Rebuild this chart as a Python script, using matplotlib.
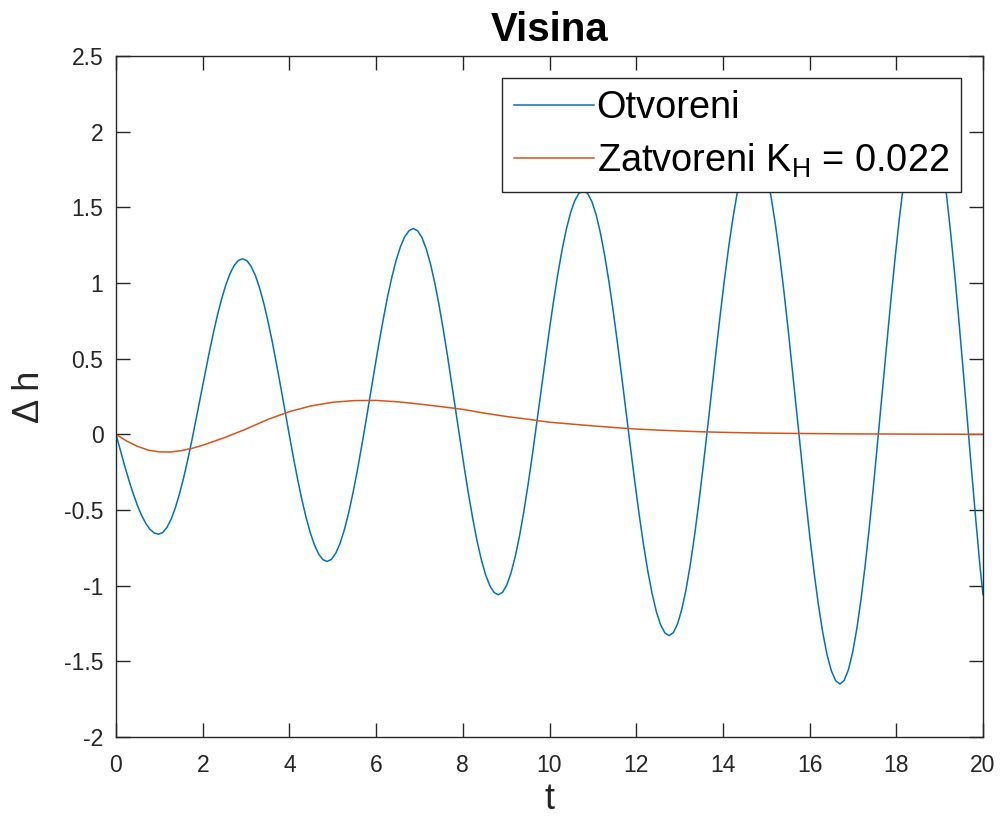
import numpy as np
import matplotlib
matplotlib.use("Agg")
import matplotlib.pyplot as plt

plt.rcParams['font.family'] = ['Liberation Sans', 'DejaVu Sans']
plt.rcParams['mathtext.fontset'] = 'custom'
plt.rcParams['mathtext.rm'] = 'Liberation Sans'
plt.rcParams['mathtext.it'] = 'Liberation Sans:italic'

# ---- data ----
t_open = [0.0, 0.098, 0.196, 0.294, 0.392, 0.49, 0.588, 0.686, 0.784, 0.882, 0.98,
          1.077, 1.174, 1.271, 1.368, 1.465, 1.562, 1.659, 1.756, 1.853, 1.95,
          2.047, 2.144, 2.241, 2.338, 2.435, 2.532, 2.629, 2.726, 2.823, 2.92,
          3.018, 3.115, 3.213, 3.31, 3.408, 3.505, 3.603, 3.70, 3.798, 3.895,
          3.993, 4.09, 4.188, 4.285, 4.383, 4.48, 4.578, 4.675, 4.773, 4.87,
          4.97, 5.069, 5.169, 5.268, 5.368, 5.467, 5.567, 5.666, 5.766, 5.865,
          5.965, 6.064, 6.164, 6.263, 6.363, 6.462, 6.562, 6.661, 6.761, 6.86,
          6.958, 7.056, 7.154, 7.252, 7.35, 7.448, 7.546, 7.644, 7.742, 7.84,
          7.938, 8.036, 8.134, 8.232, 8.33, 8.428, 8.526, 8.624, 8.722, 8.82,
          8.918, 9.016, 9.114, 9.212, 9.31, 9.408, 9.506, 9.604, 9.702, 9.80,
          9.898, 9.996, 10.094, 10.192, 10.29, 10.388, 10.486, 10.584, 10.682, 10.78,
          10.879, 10.978, 11.077, 11.176, 11.275, 11.374, 11.473, 11.572, 11.671, 11.77,
          11.869, 11.968, 12.067, 12.166, 12.265, 12.364, 12.463, 12.562, 12.661, 12.76,
          12.858, 12.956, 13.054, 13.152, 13.25, 13.348, 13.446, 13.544, 13.642, 13.74,
          13.838, 13.936, 14.034, 14.132, 14.23, 14.328, 14.426, 14.524, 14.622, 14.72,
          14.819, 14.918, 15.017, 15.116, 15.215, 15.314, 15.413, 15.512, 15.611, 15.71,
          15.809, 15.908, 16.007, 16.106, 16.205, 16.304, 16.403, 16.502, 16.601, 16.70,
          16.798, 16.896, 16.994, 17.092, 17.19, 17.288, 17.386, 17.484, 17.582, 17.68,
          17.778, 17.876, 17.974, 18.072, 18.17, 18.268, 18.366, 18.464, 18.562, 18.66,
          18.758, 18.856, 18.954, 19.052, 19.15, 19.248, 19.346, 19.444, 19.542, 19.64,
          19.738, 19.836, 19.934, 20.0]
h_open = [0.0, -0.103, -0.204, -0.300, -0.388, -0.467, -0.534, -0.588, -0.628, -0.652, -0.66,
          -0.649, -0.616, -0.561, -0.486, -0.393, -0.285, -0.163, -0.031, 0.108, 0.25,
          0.392, 0.531, 0.663, 0.785, 0.893, 0.986, 1.061, 1.116, 1.149, 1.16,
          1.148, 1.111, 1.051, 0.969, 0.867, 0.748, 0.614, 0.469, 0.316, 0.16,
          0.004, -0.149, -0.294, -0.428, -0.547, -0.649, -0.731, -0.791, -0.828, -0.84,
          -0.826, -0.786, -0.720, -0.630, -0.518, -0.387, -0.239, -0.080, 0.088, 0.26,
          0.432, 0.600, 0.759, 0.907, 1.038, 1.150, 1.240, 1.306, 1.346, 1.36,
          1.345, 1.301, 1.228, 1.129, 1.006, 0.861, 0.699, 0.524, 0.339, 0.15,
          -0.039, -0.224, -0.399, -0.561, -0.706, -0.829, -0.928, -1.001, -1.045, -1.06,
          -1.044, -0.995, -0.914, -0.805, -0.669, -0.510, -0.331, -0.138, 0.066, 0.275,
          0.484, 0.688, 0.881, 1.060, 1.219, 1.355, 1.464, 1.545, 1.594, 1.61,
          1.592, 1.538, 1.450, 1.329, 1.179, 1.004, 0.807, 0.594, 0.370, 0.14,
          -0.090, -0.314, -0.527, -0.724, -0.899, -1.049, -1.170, -1.258, -1.312, -1.33,
          -1.310, -1.251, -1.154, -1.022, -0.857, -0.664, -0.448, -0.214, 0.032, 0.285,
          0.538, 0.784, 1.018, 1.234, 1.427, 1.592, 1.724, 1.821, 1.880, 1.90,
          1.878, 1.813, 1.707, 1.561, 1.380, 1.168, 0.931, 0.674, 0.403, 0.125,
          -0.153, -0.424, -0.681, -0.918, -1.130, -1.311, -1.457, -1.563, -1.628, -1.65,
          -1.626, -1.555, -1.439, -1.280, -1.082, -0.850, -0.591, -0.310, -0.013, 0.29,
          0.593, 0.890, 1.171, 1.430, 1.662, 1.859, 2.019, 2.135, 2.206, 2.23,
          2.204, 2.125, 1.997, 1.821, 1.603, 1.348, 1.062, 0.751, 0.425, 0.09,
          -0.245, -0.571, -0.882, -1.06]

t_closed = [0.0, 0.25, 0.5, 0.75, 1.0, 1.25, 1.5, 1.75, 2.0, 2.5, 3.0, 3.5, 4.0,
            4.5, 5.0, 5.5, 6.0, 6.5, 7.0, 7.5, 8.0, 8.5, 9.0, 9.5, 10.0, 10.5,
            11.0, 11.5, 12.0, 12.5, 13.0, 13.5, 14.0, 15.0, 16.0, 17.0, 18.0, 20.0]
h_closed = [0.0, -0.045, -0.08, -0.105, -0.116, -0.117, -0.108, -0.093, -0.072,
            -0.022, 0.035, 0.098, 0.15, 0.188, 0.212, 0.223, 0.224, 0.215, 0.2,
            0.183, 0.165, 0.14, 0.118, 0.1, 0.08, 0.068, 0.056, 0.045, 0.035,
            0.028, 0.022, 0.017, 0.013, 0.008, 0.005, 0.003, 0.002, 0.0]

x_ticks = [0, 2, 4, 6, 8, 10, 12, 14, 16, 18, 20]
x_tick_labels = ['0', '2', '4', '6', '8', '10', '12', '14', '16', '18', '20']
y_ticks = [-2, -1.5, -1, -0.5, 0, 0.5, 1, 1.5, 2, 2.5]
y_tick_labels = ['-2', '-1.5', '-1', '-0.5', '0', '0.5', '1', '1.5', '2', '2.5']

series_labels = ['Otvoreni', r'Zatvoreni K$_\mathrm{H}$ = 0.022']
title = 'Visina'
xlabel = 't'
ylabel = '\u0394 h'

# ---- figure ----
W, H = 1003, 825
fig = plt.figure(figsize=(W / 100, H / 100), dpi=100)
fig.patch.set_facecolor('white')
ax = fig.add_axes([116 / W, 1 - 737 / H, 867 / W, 681 / H])

ax.plot(t_open, h_open, color='#0072BD', lw=1.1, label=series_labels[0])
ax.plot(t_closed, h_closed, color='#D95319', lw=1.1, label=series_labels[1])

ax.set_xlim(0, 20)
ax.set_ylim(-2, 2.5)
ax.set_xticks(x_ticks)
ax.set_xticklabels(x_tick_labels)
ax.set_yticks(y_ticks)
ax.set_yticklabels(y_tick_labels)

axc = '#262626'
for s in ax.spines.values():
    s.set_color(axc)
    s.set_linewidth(1.0)
ax.tick_params(direction='in', length=10, width=1.0, top=True, right=True,
               colors=axc, labelsize=16.5)
ax.tick_params(axis='x', pad=12)
ax.tick_params(axis='y', pad=9)

ax.set_title(title, fontsize=29, fontweight='bold', color='black', pad=11)
ax.set_xlabel(xlabel, fontsize=26, color=axc, labelpad=4)
ax.set_ylabel(ylabel, fontsize=26, color=axc, labelpad=12)

leg = ax.legend(loc='upper right', fontsize=27.3, frameon=True, fancybox=False,
                edgecolor=axc, framealpha=1.0, borderaxespad=0.58,
                handlelength=2.1, handletextpad=0.08, borderpad=0.32,
                labelspacing=0.4)
leg.get_frame().set_linewidth(1.0)
for txt in leg.get_texts():
    txt.set_color('black')

fig.savefig('out.png', dpi=100)
